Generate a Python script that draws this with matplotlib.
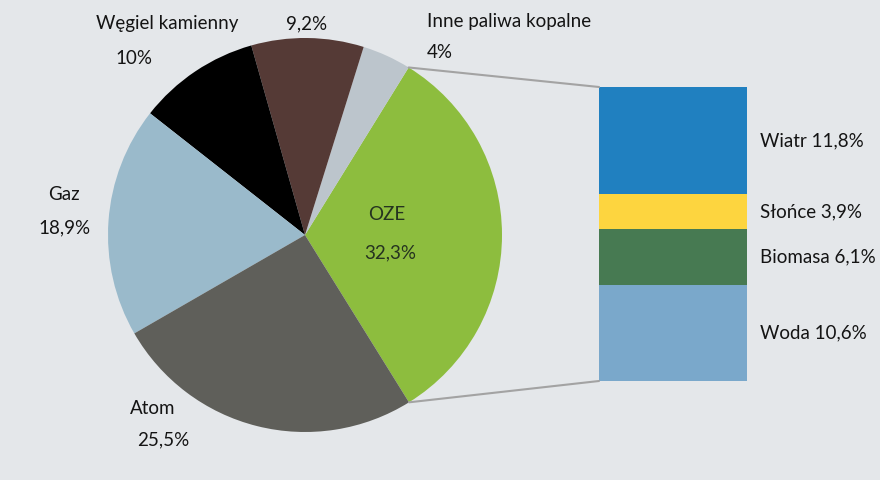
import numpy as np
import matplotlib.pyplot as plt
from matplotlib.patches import ConnectionPatch

plt.rcParams['font.family'] = ['Lato', 'DejaVu Sans']

# main pie, counter-clockwise starting at OZE
pie_labels = ["OZE", "Inne paliwa kopalne", "", "Węgiel kamienny", "Gaz", "Atom"]
pie_values = [32.3, 4.0, 9.2, 10.0, 18.9, 25.5]
pie_texts = ["32,3%", "4%", "9,2%", "10%", "18,9%", "25,5%"]
pie_colors = ["#8dbd3e", "#bcc5cc", "#553a36", "#000000", "#9abacb", "#5f5f5a"]

# OZE breakdown, bottom to top
oze_labels = ["Woda", "Biomasa", "Słońce", "Wiatr"]
oze_values = [10.6, 6.1, 3.9, 11.8]
oze_texts = ["10,6%", "6,1%", "3,9%", "11,8%"]
oze_colors = ["#7aa8cb", "#477a52", "#fdd53f", "#2080c0"]

BG = "#e4e7ea"
W, H = 880, 480

fig = plt.figure(figsize=(8.8, 4.8), dpi=100, facecolor=BG)
ax = fig.add_axes([0, 0, 1, 1])

cx, cy, r = 305, 245, 197
start = -pie_values[0] / 100 * 360 / 2
wedges, _ = ax.pie(pie_values, colors=pie_colors, startangle=start,
                   counterclock=True, center=(cx, cy), radius=r,
                   wedgeprops=dict(linewidth=0), frame=True)
ax.set_xlim(0, W)
ax.set_ylim(0, H)
ax.set_aspect("equal")
ax.axis("off")

# stacked bar for OZE
bx = fig.add_axes([599 / W, 99 / H, 148 / W, 294 / H])
bottom = 0
for v, c in zip(oze_values, oze_colors):
    bx.bar(0, v, bottom=bottom, width=1, color=c, linewidth=0)
    bottom += v
bx.set_xlim(-0.5, 0.5)
bx.set_ylim(0, sum(oze_values))
bx.axis("off")

# connector lines
w0 = wedges[0]
for ang, yb in [(w0.theta2, sum(oze_values)), (w0.theta1, 0)]:
    px = cx + r * np.cos(np.radians(ang))
    py = cy + r * np.sin(np.radians(ang))
    con = ConnectionPatch(xyA=(px, py), coordsA=ax.transData,
                          xyB=(-0.5, yb), coordsB=bx.transData,
                          color="#a3a3a3", linewidth=1.5)
    fig.add_artist(con)

fs = 13.5
tc = "#141414"


def put(x, y, s, ha="center", color=tc):
    # x, y in pixels from the top-left corner
    ax.text(x, H - y, s, ha=ha, va="center", fontsize=fs, color=color)


put(167, 24, pie_labels[3])
put(134, 58, pie_texts[3])
put(307, 24, pie_texts[2])
put(427, 22, pie_labels[1], ha="left")
put(427, 52, pie_texts[1], ha="left")
put(64, 194, pie_labels[4])
put(64, 228, pie_texts[4])
put(387, 214, pie_labels[0], color="#253320")
put(390, 253, pie_texts[0], color="#253320")
put(153, 408, pie_labels[5])
put(163, 440, pie_texts[5])

# bar labels
bottom = 0
for lab, t, v in zip(oze_labels, oze_texts, oze_values):
    bx.text(0.5 + 0.09, bottom + v / 2, f"{lab} {t}", ha="left", va="center",
            fontsize=fs, color=tc)
    bottom += v

fig.savefig("out.png", dpi=100, facecolor=BG)
